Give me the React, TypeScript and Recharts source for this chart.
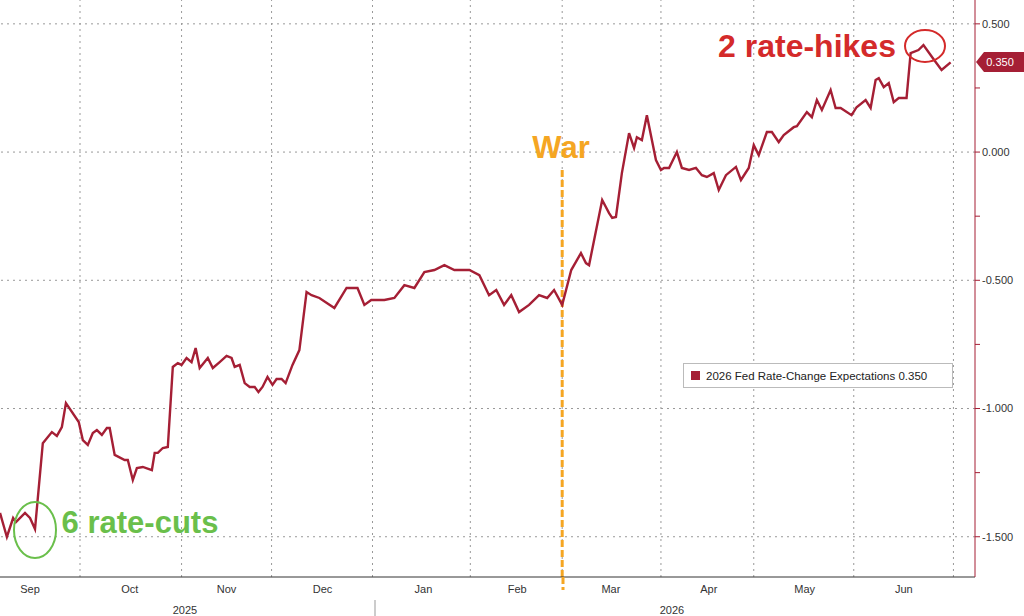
import React from 'react';
import { LineChart, Line, XAxis, YAxis, ReferenceLine } from 'recharts';

const days = [0,2.2,4.2,5.1,8,9.6,11.2,13.7,16.6,18.2,19.8,21.1,25.2,26.5,28.1,29.7,31,32.6,34.2,35.1,36.7,39.9,40.9,42.5,43.8,45.7,48.6,49.5,50.5,52.1,53.7,55.3,56.9,58.1,59.7,61.3,62.6,63.9,66.5,68.1,70.3,72.5,74.1,75.1,76.7,78.3,79.9,81.5,82.7,84,85.6,87.2,88.5,90.1,91.4,93.6,95.8,
98.1,99.7,102.2,107,110.9,114.4,116.6,118.8,123,126.2,129.4,132.6,135.8,139,142.2,145.4,150.2,153.4,156.5,158.8,161.3,163.6,166.1,169.3,172.5,175.1,177.3,179.9,
182.8,185.9,187.5,188.5,192.7,194.9,195.9,197.1,199,201.3,202.9,203.8,205.4,207,209.9,211.5,212.5,214.1,216.6,218.2,220.5,222.7,224.6,226.2,228.4,230,232.3,235.5,237.1,239.6,241.2,242.8,245.4,247,249.2,250.8,254,255,258.2,259.8,261.4,263,265.8,267.4,269,272.5,274.1,277,278.6,280.2,281.2,282.8,284.4,286,287.6,290.1,291.4,293.9,295.5,299.4,301.3,304.2];
const values = [-1.407,-1.501,-1.427,-1.443,-1.407,-1.427,-1.47,-1.135,-1.092,-1.107,-1.072,-0.979,-1.053,-1.123,-1.142,-1.096,-1.084,-1.103,-1.076,-1.076,-1.181,-1.201,-1.201,-1.279,-1.232,-1.228,-1.24,-1.173,-1.173,-1.154,-1.15,-0.838,-0.823,-0.83,-0.803,-0.819,-0.764,-0.842,-0.803,-0.842,-0.819,-0.795,-0.803,-0.838,-0.83,-0.901,-0.916,-0.916,-0.936,-0.916,-0.877,-0.908,-0.885,-0.885,-0.901,-0.83,-0.772,
-0.546,-0.558,-0.569,-0.608,-0.53,-0.53,-0.596,-0.577,-0.577,-0.569,-0.519,-0.53,-0.468,-0.46,-0.441,-0.46,-0.46,-0.48,-0.558,-0.538,-0.596,-0.558,-0.624,-0.596,-0.558,-0.569,-0.538,-0.596,
-0.46,-0.394,-0.433,-0.441,-0.187,-0.238,-0.257,-0.253,-0.082,0.074,0.016,0.058,0.047,0.144,-0.031,-0.07,-0.062,-0.062,0,-0.062,-0.07,-0.062,-0.09,-0.097,-0.082,-0.148,-0.09,-0.058,-0.109,-0.062,0.027,-0.012,0.078,0.078,0.039,0.066,0.097,0.101,0.156,0.136,0.203,0.164,0.242,0.172,0.172,0.144,0.175,0.203,0.172,0.281,0.288,0.253,0.269,0.195,0.211,0.211,0.386,0.398,0.417,0.351,0.32,0.35];

const monthLabels = ['Sep','Oct','Nov','Dec','Jan','Feb','Mar','Apr','May','Jun'];
const monthMid = [9.6,41.5,72.5,103.2,135.5,165.5,195.5,226.8,257.5,289.2];
const monthBounds = [25.6,58.1,86.9,119.2,150.5,179.9,211.5,241.2,273.2,305.1];
const yTicks = [-1.5,-1.25,-1,-0.75,-0.5,-0.25,0,0.25,0.5];
const yGrid = [-1.5,-1,-0.5,0,0.5];
const warDay = 179.9;
const lastValue = 0.35;

const data = days.map((d, i) => ({ d, v: values[i] }));
const RED = '#a51f35';
const FONT = '"Liberation Sans", Arial, sans-serif';

export default function App() {
  return (
    <div style={{ position: 'absolute', left: 0, top: 0, width: 1024, height: 616, background: '#fff', fontFamily: FONT, overflow: 'hidden' }}>
      <LineChart width={1024} height={616} data={data} margin={{ top: 0, right: 0, left: 0, bottom: 0 }}>
        <XAxis dataKey="d" type="number" domain={[0, 312]} ticks={monthMid}
          tickFormatter={(v) => monthLabels[monthMid.indexOf(v)] ?? ''}
          tickLine={false} height={39} stroke="#333" tick={{ fill: '#333', fontSize: 11, fontFamily: FONT }} allowDataOverflow />
        <YAxis orientation="right" width={49} domain={[-1.657, 0.593]} ticks={yTicks} allowDataOverflow
          stroke={RED} tickSize={5}
          tickFormatter={(v) => (Math.abs(v * 2 - Math.round(v * 2)) < 1e-6 ? v.toFixed(3) : '')}
          tick={{ fill: '#333', fontSize: 11, fontFamily: FONT }} />
        {yGrid.map((y) => <ReferenceLine key={'h' + y} y={y} stroke="#999" strokeDasharray="2 4" />)}
        {monthBounds.map((x) => <ReferenceLine key={'v' + x} x={x} stroke="#999" strokeDasharray="2 4" />)}
        <ReferenceLine segment={[{ x: warDay, y: -0.07 }, { x: warDay, y: -1.657 }]} stroke="#f5a623" strokeWidth={3} strokeDasharray="7 3" />
        <Line dataKey="v" stroke={RED} strokeWidth={2.4} dot={false} activeDot={false} isAnimationActive={false} />
      </LineChart>
      <svg width={1024} height={616} style={{ position: 'absolute', left: 0, top: 0, pointerEvents: 'none' }}>
        <line x1={563} y1={577} x2={563} y2={590} stroke="#f5a623" strokeWidth={3} strokeDasharray="7 3" />
        <ellipse cx={925} cy={46} rx={20} ry={16} fill="none" stroke="#d42a2a" strokeWidth={2} />
        <ellipse cx={35} cy={530} rx={21} ry={28} fill="none" stroke="#6abf4b" strokeWidth={2} />
        <line x1={375} y1={600} x2={375} y2={616} stroke="#999" />
        <path d="M976,62 L984,52 L1024,52 L1024,72 L984,72 Z" fill={RED} />
        <text x={1000} y={66} textAnchor="middle" fill="#fff" fontSize={11} fontFamily={FONT}>{lastValue.toFixed(3)}</text>
        <text x={185} y={614} textAnchor="middle" fill="#333" fontSize={11} fontFamily={FONT}>2025</text>
        <text x={672} y={614} textAnchor="middle" fill="#333" fontSize={11} fontFamily={FONT}>2026</text>
        <text x={561} y={158} textAnchor="middle" fill="#f5a623" fontSize={31} fontWeight="bold" fontFamily={FONT}>War</text>
        <text x={807} y={57} textAnchor="middle" fill="#d42a2a" fontSize={32} fontWeight="bold" fontFamily={FONT}>2 rate-hikes</text>
        <text x={140} y={533} textAnchor="middle" fill="#6abf4b" fontSize={31} fontWeight="bold" fontFamily={FONT}>6 rate-cuts</text>
      </svg>
      <div style={{ position: 'absolute', left: 683, top: 363, width: 270, height: 25, border: '1px solid #bbb', background: '#fff', boxSizing: 'border-box', display: 'flex', alignItems: 'center', fontSize: 11.5, color: '#222' }}>
        <span style={{ display: 'inline-block', width: 9, height: 9, background: RED, margin: '0 6px 0 7px' }} />
        2026 Fed Rate-Change Expectations {lastValue.toFixed(3)}
      </div>
    </div>
  );
}
